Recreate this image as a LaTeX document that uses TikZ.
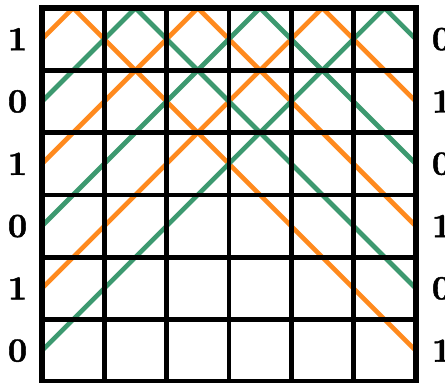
\documentclass[tikz,border=0pt]{standalone}
\usepackage{fontspec}
\newfontfamily\bitfont{lmroman10-bold.otf}[FakeBold=1.2]
\definecolor{lineorange}{HTML}{FF8A1E}
\definecolor{linegreen}{HTML}{3D9970}
\begin{document}
\begin{tikzpicture}[x=1pt,y=-1pt,
  orangeline/.style={draw=lineorange,line width=4.7pt},
  greenline/.style={draw=linegreen,line width=4.7pt},
  gridline/.style={draw=black,line width=4.7pt},
  border/.style={draw=black,line width=6pt},
  bit/.style={font=\fontsize{34}{34}\selectfont\bitfont,inner sep=0pt}]
\useasboundingbox (-42,-8) rectangle (403,375);
\begin{scope}[x=62.3pt,y=-62.3pt]
  \begin{scope}
    \clip (0,0) rectangle (6,6);
    \foreach \r in {0,2,4}
      \draw[orangeline] (0,\r+0.5) -- (\r+0.5,0) -- (6,5.5-\r);
    \foreach \r in {1,3,5}
      \draw[greenline] (0,\r+0.5) -- (\r+0.5,0) -- (6,5.5-\r);
  \end{scope}
  \foreach \i in {1,...,5} {
    \draw[gridline] (\i,0) -- (\i,6);
    \draw[gridline] (0,\i) -- (6,\i);
  }
  \draw[border] (0,0) rectangle (6,6);
  \foreach \r/\b in {0/1,1/0,2/1,3/0,4/1,5/0}
    \node[bit] (L\r) at (-0.393,\r+0.5) {\b};
  \foreach \r/\b in {0/0,1/1,2/0,3/1,4/0,5/1}
    \node[bit] (R\r) at (6.414,\r+0.5) {\b};
\end{scope}
\end{tikzpicture}
\end{document}
